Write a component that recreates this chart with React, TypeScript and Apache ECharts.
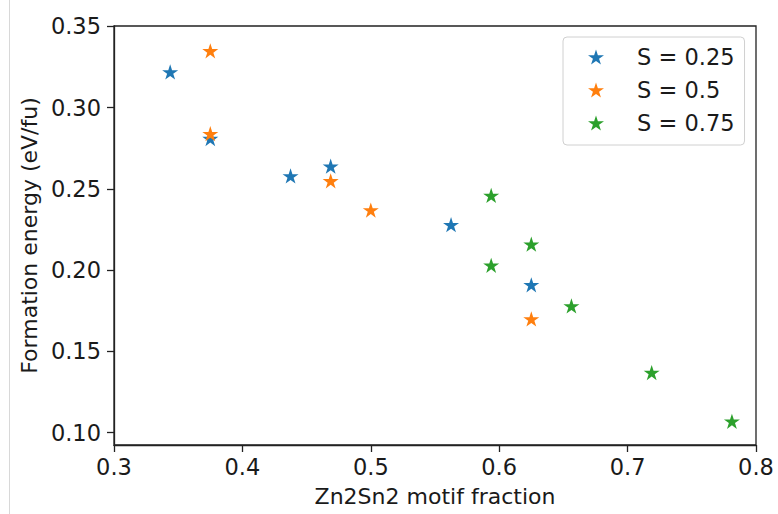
import React, { useEffect, useRef } from "react";
import * as echarts from "echarts";

const seriesNames = ["S = 0.25", "S = 0.5", "S = 0.75"];
const colors = ["#1f77b4", "#ff7f0e", "#2ca02c"];

const s025: [number, number][] = [
  [0.34375, 0.322],
  [0.375, 0.281],
  [0.4375, 0.258],
  [0.46875, 0.264],
  [0.5625, 0.228],
  [0.625, 0.191],
];
const s050: [number, number][] = [
  [0.375, 0.335],
  [0.375, 0.284],
  [0.46875, 0.255],
  [0.5, 0.237],
  [0.625, 0.17],
];
const s075: [number, number][] = [
  [0.59375, 0.246],
  [0.59375, 0.203],
  [0.625, 0.216],
  [0.65625, 0.178],
  [0.71875, 0.137],
  [0.78125, 0.107],
];

const yTicks = [0.1, 0.15, 0.2, 0.25, 0.3, 0.35];
const xTicks = [0.3, 0.4, 0.5, 0.6, 0.7, 0.8];

const STAR =
  "path://M0,-100 L22.45,-30.9 L95.11,-30.9 L36.33,11.8 L58.78,80.9 L0,38.2 L-58.78,80.9 L-36.33,11.8 L-95.11,-30.9 L-22.45,-30.9 Z";

const FONT = "DejaVu Sans";
const TXT = "#1a1a1a";

export default function App() {
  const ref = useRef<HTMLDivElement>(null);
  useEffect(() => {
    if (!ref.current) return;
    const chart = echarts.init(ref.current, null, { renderer: "svg" });
    const allData = [s025, s050, s075];
    chart.setOption({
      animation: false,
      backgroundColor: "#fff",
      textStyle: { fontFamily: FONT },
      grid: {
        left: 114,
        right: 22,
        top: 26,
        bottom: 69,
        show: true,
        borderColor: "#222",
        borderWidth: 1.3,
        backgroundColor: "transparent",
      },
      legend: {
        orient: "vertical",
        left: 563,
        top: 37,
        padding: [7, 10, 9, 25],
        itemGap: 7,
        itemWidth: 16,
        itemHeight: 16,
        backgroundColor: "#fff",
        borderColor: "#d0d0d0",
        borderWidth: 1,
        borderRadius: 4,
        textStyle: {
          fontFamily: FONT,
          fontSize: 22.5,
          color: TXT,
          lineHeight: 26,
          padding: [0, 0, 0, 28],
        },
        data: seriesNames,
      },
      xAxis: {
        type: "value",
        min: 0.3,
        max: 0.8,
        interval: 0.1,
        name: "Zn2Sn2 motif fraction",
        nameLocation: "middle",
        nameGap: 40,
        nameTextStyle: { fontFamily: FONT, fontSize: 22, color: TXT },
        axisLine: { show: true, lineStyle: { color: "#222", width: 1.3 } },
        axisTick: {
          show: true,
          length: 7,
          lineStyle: { color: "#222", width: 1.3 },
          customValues: xTicks,
        },
        axisLabel: {
          fontFamily: FONT,
          fontSize: 22.5,
          color: TXT,
          margin: 10,
          customValues: xTicks,
          formatter: (v: number) => v.toFixed(1),
        },
        splitLine: { show: false },
      },
      yAxis: {
        type: "value",
        min: 0.0924,
        max: 0.3503,
        name: "Formation energy (eV/fu)",
        nameLocation: "middle",
        nameGap: 72,
        nameTextStyle: { fontFamily: FONT, fontSize: 22, color: TXT },
        axisLine: { show: true, lineStyle: { color: "#222", width: 1.3 } },
        axisTick: {
          show: true,
          length: 7,
          lineStyle: { color: "#222", width: 1.3 },
          customValues: yTicks,
        },
        axisLabel: {
          fontFamily: FONT,
          fontSize: 22.5,
          color: TXT,
          margin: 13,
          customValues: yTicks,
          formatter: (v: number) => v.toFixed(2),
        },
        splitLine: { show: false },
      },
      graphic: [
        {
          type: "line",
          shape: { x1: 9.5, y1: 0, x2: 9.5, y2: 514 },
          style: { stroke: "#d8d8d8", lineWidth: 1 },
          silent: true,
        },
      ],
      series: seriesNames.map((name, i) => ({
        name,
        type: "scatter",
        symbol: STAR,
        symbolSize: 16,
        symbolKeepAspect: true,
        itemStyle: { color: colors[i], opacity: 1 },
        data: allData[i],
      })),
    });
    return () => chart.dispose();
  }, []);
  return (
    <div
      ref={ref}
      style={{ position: "fixed", left: 0, top: 0, width: 778, height: 514 }}
    />
  );
}
